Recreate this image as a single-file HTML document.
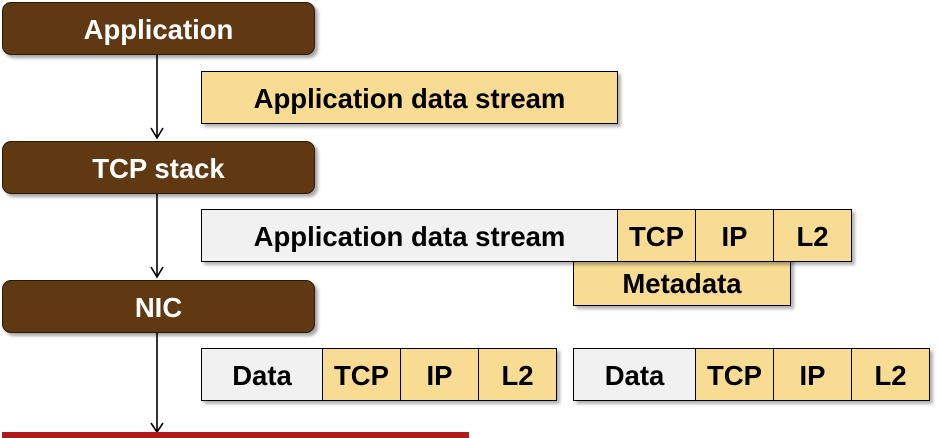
<!DOCTYPE html>
<html><head><style>
body{margin:0;width:938px;height:438px;background:#fff;position:relative;overflow:hidden;font-family:"Liberation Sans",sans-serif;font-weight:bold;}
.b{position:absolute;box-sizing:border-box;display:flex;align-items:center;justify-content:center;font-size:27.5px;padding-top:3px;}
.n{background:#603913;color:#fff;border:1px solid #2a1a08;border-radius:9px;box-shadow:3px 3px 3px rgba(0,0,0,.35);}
.y{background:#f8dc94;border:1px solid #000;color:#000;}
.g{background:#f1f1f1;border:1px solid #000;color:#000;}
.s{box-shadow:3px 3px 3px rgba(0,0,0,.3);}
</style></head><body>
<svg style="position:absolute;left:0;top:0" width="938" height="438">
<g stroke="#000" stroke-width="1.6" fill="none">
<line x1="157" y1="54" x2="157" y2="138"/><polyline points="151,128 157,138 163,128"/>
<line x1="157" y1="193" x2="157" y2="277"/><polyline points="151,267 157,277 163,267"/>
<line x1="157" y1="332" x2="157" y2="432"/><polyline points="151,423 157,432 163,423"/>
</g>
<rect x="2" y="432" width="467" height="6" fill="#b01a1a"/>
</svg>
<div class="b n" style="left:2px;top:2px;width:313px;height:53px">Application</div>
<div class="b n" style="left:2px;top:141px;width:313px;height:53px">TCP stack</div>
<div class="b n" style="left:2px;top:280px;width:313px;height:53px">NIC</div>
<div class="b y s" style="left:201px;top:71px;width:417px;height:53px">Application data stream</div>
<div class="b y s" style="left:573px;top:255px;width:218px;height:51px;padding-top:6px">Metadata</div>
<div class="s" style="position:absolute;left:201px;top:209px;width:651px;height:53px"></div>
<div class="b g" style="left:201px;top:209px;width:417px;height:53px">Application data stream</div>
<div class="b y" style="left:617px;top:209px;width:79px;height:53px">TCP</div>
<div class="b y" style="left:695px;top:209px;width:79px;height:53px">IP</div>
<div class="b y" style="left:773px;top:209px;width:79px;height:53px">L2</div>
<div class="s" style="position:absolute;left:201px;top:348px;width:356px;height:53px"></div>
<div class="b g" style="left:201px;top:348px;width:122px;height:53px">Data</div>
<div class="b y" style="left:322px;top:348px;width:79px;height:53px">TCP</div>
<div class="b y" style="left:400px;top:348px;width:79px;height:53px">IP</div>
<div class="b y" style="left:478px;top:348px;width:79px;height:53px">L2</div>
<div class="s" style="position:absolute;left:573px;top:348px;width:357px;height:53px"></div>
<div class="b g" style="left:573px;top:348px;width:123px;height:53px">Data</div>
<div class="b y" style="left:695px;top:348px;width:79px;height:53px">TCP</div>
<div class="b y" style="left:773px;top:348px;width:79px;height:53px">IP</div>
<div class="b y" style="left:851px;top:348px;width:79px;height:53px">L2</div>
</body></html>
